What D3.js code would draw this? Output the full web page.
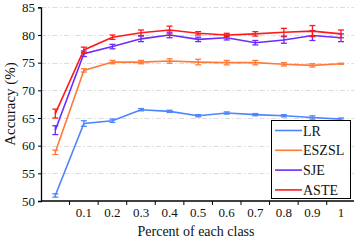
<!DOCTYPE html>
<html lang="en">
<head>
<meta charset="UTF-8">
<title>Accuracy vs percent of each class</title>
<script src="https://d3js.org/d3.v7.min.js"></script>
<style>
  body { margin: 0; background: #fff; }
  svg text { font-family: "Liberation Serif", "Times New Roman", serif; fill: #111; }
</style>
</head>
<body>
<div id="chart"></div>
<script>
    // data
    var xLabels = ["", "0.1", "0.2", "0.3", "0.4", "0.5", "0.6", "0.7", "0.8", "0.9", "1"];
    var seriesNames = ["LR", "ESZSL", "SJE", "ASTE"];
    var seriesColors = ["#4d84ff", "#ff7a38", "#6a2cff", "#ff1a1a"];
    var lrVals    = [51.0, 64.0, 64.5, 66.5, 66.2, 65.4, 65.9, 65.6, 65.4, 65.1, 64.8];
    var lrErr     = [0.3, 0.5, 0.3, 0.2, 0.2, 0.2, 0.2, 0.2, 0.2, 0.3, 0.2];
    var eszslVals = [58.8, 73.6, 75.1, 75.1, 75.3, 75.1, 75.0, 75.0, 74.7, 74.5, 74.8];
    var eszslErr  = [0.4, 0.3, 0.3, 0.3, 0.4, 0.5, 0.4, 0.4, 0.3, 0.3, 0.1];
    var sjeVals   = [62.8, 76.6, 77.9, 79.3, 80.0, 79.2, 79.5, 78.6, 79.1, 79.9, 79.5];
    var sjeErr    = [0.8, 0.5, 0.4, 0.5, 0.5, 0.4, 0.4, 0.4, 0.6, 0.9, 0.7];
    var asteVals  = [65.8, 77.3, 79.6, 80.4, 80.9, 80.3, 80.0, 80.2, 80.5, 80.7, 80.2];
    var asteErr   = [0.8, 0.5, 0.4, 0.5, 0.7, 0.3, 0.3, 0.4, 0.7, 1.0, 0.7];
    var yTicks = [50, 55, 60, 65, 70, 75, 80, 85];

    var W = 354, H = 245;
    var series = [
        {name: seriesNames[0], color: seriesColors[0], vals: lrVals, err: lrErr},
        {name: seriesNames[1], color: seriesColors[1], vals: eszslVals, err: eszslErr},
        {name: seriesNames[2], color: seriesColors[2], vals: sjeVals, err: sjeErr},
        {name: seriesNames[3], color: seriesColors[3], vals: asteVals, err: asteErr}
    ];

    var svg = d3.select("#chart").append("svg").attr("width", W).attr("height", H);

    var x = d3.scaleBand().domain(d3.range(xLabels.length)).range([41, 355.3]).padding(0);
    var y = d3.scaleLinear().domain([50, 85]).range([201, 7.3]);
    var cx = function (i) { return x(i) + x.bandwidth() / 2; };

    // grid lines
    svg.append("g").selectAll("line").data(yTicks.slice(1)).enter().append("line")
        .attr("x1", 41).attr("x2", W)
        .attr("y1", function (d) { return Math.round(y(d)) + 0.5; })
        .attr("y2", function (d) { return Math.round(y(d)) + 0.5; })
        .attr("stroke", "#d9dcdc").attr("stroke-width", 1)
        .attr("stroke-dasharray", "5,2.5,1.5,2.5");

    // y axis
    var yAxis = svg.append("g").attr("transform", "translate(41,0)")
        .call(d3.axisLeft(y).tickValues(yTicks).tickSize(3).tickPadding(3));
    yAxis.select(".domain").attr("stroke", "#000").attr("stroke-width", 1.3);
    yAxis.selectAll("text").style("font-size", "13px").attr("fill", "#111");

    // x axis: ticks at band edges, labels at band centres
    var xg = svg.append("g").attr("transform", "translate(0,201)");
    xg.append("line").attr("x1", 41).attr("x2", W).attr("stroke", "#000").attr("stroke-width", 1.3);
    xg.selectAll("line.tk").data(d3.range(1, xLabels.length)).enter().append("line")
        .attr("class", "tk")
        .attr("x1", function (i) { return x(i); }).attr("x2", function (i) { return x(i); })
        .attr("y1", 0).attr("y2", 4).attr("stroke", "#000");
    xg.selectAll("text").data(xLabels).enter().append("text")
        .attr("x", function (d, i) { return cx(i); })
        .attr("y", 16)
        .attr("text-anchor", "middle")
        .style("font-size", "13px")
        .text(function (d) { return d; });

    // axis titles
    svg.append("text")
        .attr("transform", "translate(15,104) rotate(-90)")
        .attr("text-anchor", "middle").style("font-size", "15px")
        .text("Accuracy (%)");
    svg.append("text")
        .attr("x", 196).attr("y", 236)
        .attr("text-anchor", "middle").style("font-size", "14px")
        .text("Percent of each class");

    // lines and error bars
    var line = d3.line().x(function (d, i) { return cx(i); }).y(function (d) { return y(d); });
    series.forEach(function (s) {
        var g = svg.append("g");
        g.append("path").datum(s.vals).attr("d", line)
            .attr("fill", "none").attr("stroke", s.color).attr("stroke-width", 1.6);
        var eb = g.selectAll("g.eb").data(s.vals).enter().append("g").attr("class", "eb");
        eb.append("line")
            .attr("x1", function (d, i) { return cx(i); }).attr("x2", function (d, i) { return cx(i); })
            .attr("y1", function (d, i) { return y(d + s.err[i]); })
            .attr("y2", function (d, i) { return y(d - s.err[i]); })
            .attr("stroke", s.color).attr("stroke-width", 1.3);
        [1, -1].forEach(function (sg) {
            eb.append("line")
                .attr("x1", function (d, i) { return cx(i) - 3; }).attr("x2", function (d, i) { return cx(i) + 3; })
                .attr("y1", function (d, i) { return y(d + sg * s.err[i]); })
                .attr("y2", function (d, i) { return y(d + sg * s.err[i]); })
                .attr("stroke", s.color).attr("stroke-width", 1.3);
        });
    });

    // legend
    var lg = svg.append("g").attr("transform", "translate(271,120)");
    lg.append("rect").attr("x", 0.5).attr("y", 0.5).attr("width", 79).attr("height", 78)
        .attr("fill", "#fff").attr("stroke", "#000").attr("stroke-width", 1);
    var li = lg.selectAll("g.item").data(series).enter().append("g").attr("class", "item")
        .attr("transform", function (d, i) { return "translate(0," + (10.5 + i * 19.8) + ")"; });
    li.append("line").attr("x1", 4).attr("x2", 31).attr("y1", 0).attr("y2", 0)
        .attr("stroke", function (d) { return d.color; }).attr("stroke-width", 1.6);
    li.append("text").attr("x", 32).attr("y", 5).style("font-size", "14px")
        .text(function (d) { return d.name; });
</script>
</body>
</html>
